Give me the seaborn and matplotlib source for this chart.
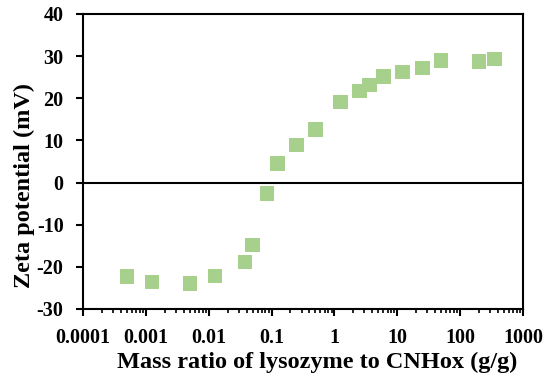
import matplotlib
matplotlib.use("Agg")
import matplotlib.pyplot as plt
import seaborn as sns
import pandas as pd
from matplotlib.ticker import LogLocator, FixedLocator, FixedFormatter, NullFormatter

mass_ratio = [0.0005, 0.00125, 0.005, 0.0125, 0.038, 0.05, 0.085, 0.125, 0.25, 0.5,
              1.25, 2.5, 3.6, 6, 12, 25, 50, 200, 350]
zeta_mv = [-22.3, -23.6, -24.0, -22.2, -18.8, -14.8, -2.6, 4.5, 8.9, 12.6,
           19.1, 21.7, 23.1, 25.1, 26.2, 27.2, 29.0, 28.7, 29.3]
x_tick_labels = ["0.0001", "0.001", "0.01", "0.1", "1", "10", "100", "1000"]
y_ticks = [-30, -20, -10, 0, 10, 20, 30, 40]

df = pd.DataFrame({"ratio": mass_ratio, "zeta": zeta_mv})

sns.set_theme(style="ticks")
plt.rcParams['font.family'] = ['Liberation Serif', 'DejaVu Serif']
plt.rcParams['font.weight'] = 'bold'
plt.rcParams['text.color'] = 'black'

fig = plt.figure(figsize=(5.45, 3.82), dpi=100)
ax = fig.add_axes([0.1523, 0.1911, 0.8073, 0.7723])

sns.scatterplot(data=df, x="ratio", y="zeta", marker="s", s=110, color="#a8d08d",
                edgecolor="none", linewidth=0, ax=ax, zorder=3)
ax.set_xscale("log")
ax.set_xlim(1e-4, 1e3)
ax.set_ylim(-30, 40)
ax.axhline(0, color="black", lw=1.5, zorder=2)

ax.xaxis.set_major_locator(FixedLocator([float(s) for s in x_tick_labels]))
ax.xaxis.set_major_formatter(FixedFormatter(x_tick_labels))
ax.xaxis.set_minor_locator(LogLocator(base=10, subs=range(2, 10), numticks=100))
ax.xaxis.set_minor_formatter(NullFormatter())
ax.set_yticks(y_ticks)
ax.set_yticklabels([str(v) for v in y_ticks])

for sp in ax.spines.values():
    sp.set_linewidth(1.5)
    sp.set_color("black")
    sp.set_visible(True)

ax.tick_params(axis="both", which="major", direction="out", length=5, width=1.5,
               colors="black", labelcolor="black", labelsize=14.5, pad=9)
ax.tick_params(axis="x", which="minor", direction="out", length=3, width=1.2, colors="black")
ax.tick_params(axis="y", which="minor", left=False)
for lab in ax.get_xticklabels() + ax.get_yticklabels():
    lab.set_fontweight("bold")

ax.set_xlabel("")
ax.set_ylabel("")
fig.text(317 / 545, 1 - 362 / 382, "Mass ratio of lysozyme to CNHox (g/g)", fontsize=17.5,
         fontweight="bold", color="black", ha="center", va="center")
fig.text(24 / 545, 1 - 185.5 / 382, "Zeta potential (mV)", fontsize=17.5,
         fontweight="bold", color="black", ha="center", va="center", rotation=90)
ax.grid(False)

fig.savefig("out.png", dpi=100)
